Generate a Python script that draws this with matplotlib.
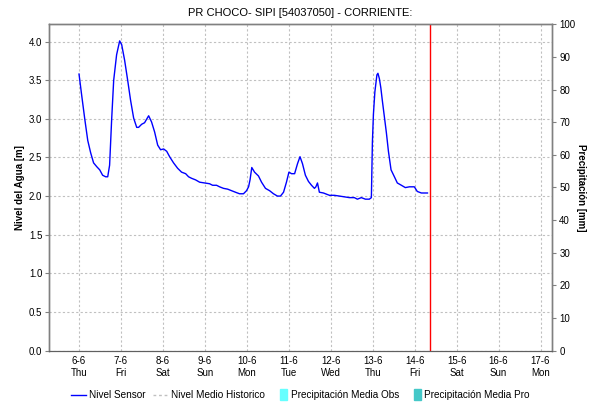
import matplotlib
matplotlib.use("Agg")
import matplotlib.pyplot as plt
from matplotlib.lines import Line2D
from matplotlib.patches import Patch, Rectangle
from matplotlib.legend_handler import HandlerPatch
import pandas as pd

plt.rcParams['font.family'] = ['Liberation Sans', 'DejaVu Sans']

title = "PR CHOCO- SIPI [54037050] - CORRIENTE:"
year = 2024

times = [
    "06-06 00:00", "06-06 01:30", "06-06 03:20", "06-06 05:00", "06-06 06:40", "06-06 08:20",
    "06-06 10:10", "06-06 11:50", "06-06 13:30", "06-06 15:15", "06-06 16:25", "06-06 17:30",
    "06-06 18:40", "06-06 19:50", "06-06 21:30", "06-06 23:15", "07-06 00:25", "07-06 02:05",
    "07-06 03:50", "07-06 05:30", "07-06 07:15", "07-06 09:00", "07-06 10:05", "07-06 11:50",
    "07-06 13:30", "07-06 15:50", "07-06 17:30", "07-06 19:15", "07-06 21:00", "07-06 22:40",
    "08-06 00:25", "08-06 02:10", "08-06 03:50", "08-06 06:05", "08-06 08:25", "08-06 10:40",
    "08-06 13:00", "08-06 14:40", "08-06 16:25", "08-06 18:40", "08-06 21:00", "08-06 23:50",
    "09-06 02:40", "09-06 04:25", "09-06 06:40", "09-06 08:25", "09-06 10:40", "09-06 13:00",
    "09-06 15:15", "09-06 17:30", "09-06 19:50", "09-06 22:05", "09-06 23:50", "10-06 01:00",
    "10-06 01:50", "10-06 02:50", "10-06 04:25", "10-06 06:40", "10-06 08:25", "10-06 10:40",
    "10-06 13:00", "10-06 15:15", "10-06 17:30", "10-06 19:15", "10-06 21:00", "10-06 22:40",
    "11-06 00:05", "11-06 01:35", "11-06 03:20", "11-06 05:00", "11-06 06:25", "11-06 07:50",
    "11-06 09:30", "11-06 11:15", "11-06 13:00", "11-06 14:40", "11-06 15:30", "11-06 16:25",
    "11-06 17:30", "11-06 19:50", "11-06 23:15", "12-06 02:05", "12-06 05:00", "12-06 07:50",
    "12-06 10:40", "12-06 13:30", "12-06 15:15", "12-06 17:30", "12-06 19:50", "12-06 22:05",
    "12-06 23:15", "12-06 23:50", "13-06 00:25", "13-06 01:15", "13-06 02:25", "13-06 03:00",
    "13-06 03:50", "13-06 04:40", "13-06 05:30", "13-06 06:40", "13-06 07:50", "13-06 09:00",
    "13-06 10:30", "13-06 12:25", "13-06 14:05", "13-06 16:25", "13-06 18:40", "13-06 21:00",
    "13-06 23:50", "14-06 01:30", "14-06 03:50", "14-06 07:20",
]
nivel_sensor = [
    3.58, 3.31, 2.99, 2.72, 2.56, 2.43,
    2.38, 2.34, 2.27, 2.25, 2.25, 2.40,
    2.99, 3.50, 3.83, 4.01, 3.96, 3.76,
    3.50, 3.24, 3.01, 2.89, 2.89, 2.93,
    2.95, 3.04, 2.96, 2.83, 2.66, 2.60,
    2.61, 2.58, 2.51, 2.43, 2.36, 2.31,
    2.29, 2.25, 2.23, 2.21, 2.18, 2.17,
    2.16, 2.14, 2.14, 2.12, 2.10, 2.09,
    2.07, 2.05, 2.03, 2.03, 2.07, 2.12,
    2.21, 2.37, 2.31, 2.26, 2.18, 2.10,
    2.07, 2.03, 2.00, 2.00, 2.05, 2.18,
    2.31, 2.29, 2.29, 2.42, 2.51, 2.42,
    2.27, 2.19, 2.14, 2.10, 2.12, 2.17,
    2.05, 2.04, 2.01, 2.01, 2.00, 1.99,
    1.98, 1.98, 1.96, 1.98, 1.96, 1.96,
    1.98, 2.70, 3.06, 3.35, 3.57, 3.59,
    3.52, 3.40, 3.24, 3.03, 2.82, 2.58,
    2.34, 2.25, 2.17, 2.14, 2.11, 2.12,
    2.12, 2.06, 2.04, 2.04,
]
now_time = "14-06 08:30"
x_start = "05-06 07:00"
x_end = "17-06 06:45"
tick_days = ["06-06", "07-06", "08-06", "09-06", "10-06", "11-06",
             "12-06", "13-06", "14-06", "15-06", "16-06", "17-06"]
tick_day_labels = ["6-6", "7-6", "8-6", "9-6", "10-6", "11-6",
                   "12-6", "13-6", "14-6", "15-6", "16-6", "17-6"]
tick_weekdays = ["Thu", "Fri", "Sat", "Sun", "Mon", "Tue",
                 "Wed", "Thu", "Fri", "Sat", "Sun", "Mon"]
left_ticks = [0.0, 0.5, 1.0, 1.5, 2.0, 2.5, 3.0, 3.5, 4.0]
right_ticks = [0, 10, 20, 30, 40, 50, 60, 70, 80, 90, 100]
legend_labels = ["Nivel Sensor", "Nivel Medio Historico",
                 "Precipitación Media Obs", "Precipitación Media Pro"]


def to_dt(s):
    return pd.to_datetime(f"{year}-{s[3:5]}-{s[0:2]} {s[6:]}")


t = [to_dt(s) for s in times]
ticks = [to_dt(d + " 00:00") for d in tick_days]

fig = plt.figure(figsize=(5.89, 4.04), dpi=100)
ax = fig.add_axes([0.0837, 0.1324, 0.854, 0.8075])
ax2 = ax.twinx()

ax.plot(t, nivel_sensor, color='#0000ff', lw=1.0, zorder=3)
ax.axvline(to_dt(now_time), color='#ff0000', lw=1.0, zorder=4)

ax.set_xlim(to_dt(x_start), to_dt(x_end))
ax.set_ylim(0, 4.225)
ax2.set_ylim(0, 100)

ax.set_xticks(ticks)
ax.set_xticklabels([f"{a}\n{b}" for a, b in zip(tick_day_labels, tick_weekdays)],
                   fontsize=7, linespacing=1.2)
ax.set_yticks(left_ticks)
ax.set_yticklabels([f"{v:.1f}" for v in left_ticks], fontsize=7)
ax2.set_yticks(right_ticks)
ax2.set_yticklabels([str(v) for v in right_ticks], fontsize=7)

ax.grid(True, color='#c0c0c0', linestyle=(0, (2, 2)), lw=0.8)
ax.tick_params(axis='x', length=0, pad=4)
ax.tick_params(axis='y', length=3, color='#808080', pad=2)
ax2.tick_params(axis='y', length=3, color='#808080', pad=2)

for a in (ax, ax2):
    for s in ('top', 'left', 'right'):
        a.spines[s].set_color('#808080')
        a.spines[s].set_linewidth(1.0)
    a.spines['bottom'].set_color('#606060')
    a.spines['bottom'].set_linestyle((0, (1, 1)))

ax.set_ylabel("Nivel del Agua [m]", fontsize=7, fontweight='bold', labelpad=3)
ax2.set_ylabel("Precipitación [mm]", fontsize=7, fontweight='bold', rotation=270, labelpad=8)

fig.text(0.51, 0.968, title, ha='center', va='center', fontsize=8)


def narrow_patch(legend, orig_handle, xdescent, ydescent, width, height, fontsize):
    return Rectangle((-xdescent + width * 0.55, -ydescent - height * 0.25),
                     width * 0.45, height * 1.5)


handles = [
    Line2D([], [], color='#0000ff', lw=1.0),
    Line2D([], [], color='#c0c0c0', lw=1.0, linestyle=(0, (2, 2))),
    Patch(color='#66ffff'),
    Patch(color='#44c8c8'),
]
fig.legend(handles, legend_labels, loc='center', bbox_to_anchor=(0.51, 0.022),
           ncol=4, frameon=False, fontsize=7.2, handlelength=1.5,
           handletextpad=0.35, columnspacing=0.7,
           handler_map={Patch: HandlerPatch(patch_func=narrow_patch)})

fig.savefig("out.png", dpi=100)
